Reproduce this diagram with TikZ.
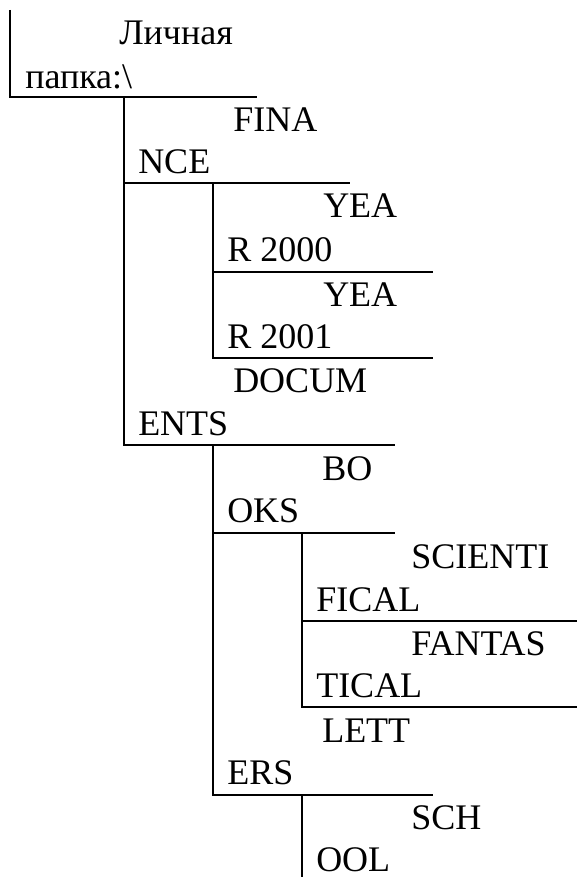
\documentclass[tikz,border=0pt]{standalone}
\usepackage{fontspec}
\setmainfont{Liberation Serif}
\usetikzlibrary{calc}

\begin{document}
\begin{tikzpicture}[x=1pt, y=-1pt, line width=2.5pt,
  folder/.style={anchor=base west, inner sep=0pt, font=\fontsize{36}{42}\selectfont}]
\useasboundingbox (0,0) rectangle (577,877);
% table borders
\draw (10,10) -- (10,97) -- (257,97);
\draw (124,97) -- (124,445) -- (395,445);
\draw (124,183) -- (350,183);
\draw (213,183) -- (213,358) -- (433,358);
\draw (213,272) -- (433,272);
\draw (213,445) -- (213,795) -- (433,795);
\draw (213,533) -- (395,533);
\draw (302,533) -- (302,707) -- (577,707);
\draw (302,621) -- (577,621);
\draw (302,795) -- (302,877);
% folder names, two lines each
\node[folder] (root1) at (118,45) {Личная};
\node[folder] (root2) at (24,89) {папка:\textbackslash};
\node[folder] (fin1) at (232,132) {FINA};
\node[folder] (fin2) at (137,174) {NCE};
\node[folder] (ya1) at (322,218) {YEA};
\node[folder] (ya2) at (226,261) {R 2000};
\node[folder] (yb1) at (322,306) {YEA};
\node[folder] (yb2) at (226,348) {R 2001};
\node[folder] (doc1) at (232,392) {DOCUM};
\node[folder] (doc2) at (137,435) {ENTS};
\node[folder] (book1) at (321,480) {BO};
\node[folder] (book2) at (226,522) {OKS};
\node[folder] (sci1) at (410,568) {SCIENTI};
\node[folder] (sci2) at (315,611) {FICAL};
\node[folder] (fan1) at (410,655) {FANTAS};
\node[folder] (fan2) at (315,697) {TICAL};
\node[folder] (let1) at (321,742) {LETT};
\node[folder] (let2) at (226,784) {ERS};
\node[folder] (sch1) at (410,829) {SCH};
\node[folder] (sch2) at (315,871) {OOL};
\end{tikzpicture}
\end{document}
